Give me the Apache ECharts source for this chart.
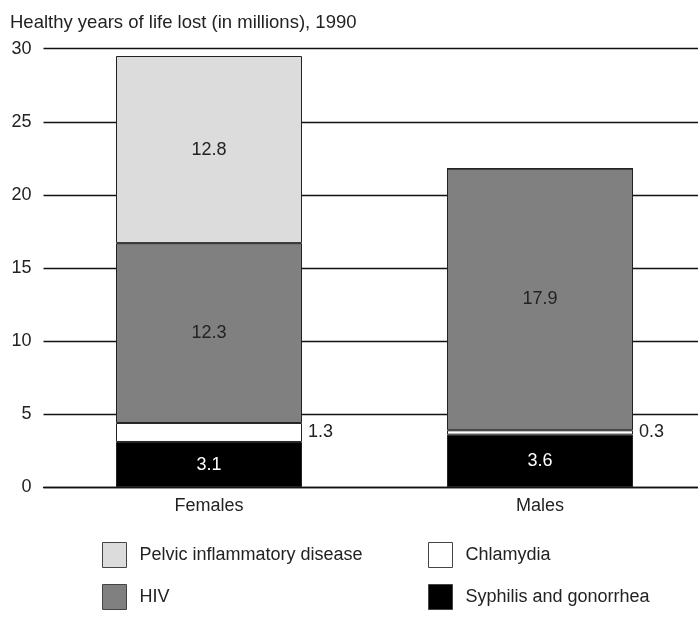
<!DOCTYPE html>
<html>
<head>
<meta charset="utf-8">
<script src="https://cdn.jsdelivr.net/npm/echarts@6/dist/echarts.min.js"></script>
<style>
html,body{margin:0;padding:0;background:#fff;}
#c{width:698px;height:621px;}
</style>
</head>
<body>
<div id="c"></div>
<script>
var categories = ['Females', 'Males'];
var syphilis = [3.1, 3.6];
var chlamydia = [1.3, 0.3];
var hiv = [12.3, 17.9];
var pid = [12.8, 0];
var yTicks = [0, 5, 10, 15, 20, 25, 30];
var titleText = 'Healthy years of life lost (in millions), 1990';

var FONT = 'Liberation Sans, Arial, sans-serif';
function fmt(p) { return p.value ? String(p.value) : ''; }
function bar(name, data, color, label) {
  return {
    name: name, type: 'bar', stack: 'a', data: data, barWidth: 186,
    itemStyle: { color: color, borderColor: '#222', borderWidth: 1 },
    label: Object.assign({ show: true, formatter: fmt, fontFamily: FONT, fontSize: 18, color: '#222' }, label)
  };
}
var legendCommon = {
  orient: 'vertical', top: 542, padding: 0, itemWidth: 24, itemHeight: 25, itemGap: 16, icon: 'rect',
  textStyle: { fontFamily: FONT, fontSize: 18, color: '#222', padding: [0, 0, 0, 8] },
  itemStyle: { borderColor: '#444', borderWidth: 1 }
};
var chart = echarts.init(document.getElementById('c'), null, { renderer: 'canvas' });
chart.setOption({
  animation: false,
  backgroundColor: '#fff',
  title: { text: titleText, left: 10, top: 13, padding: 0, textStyle: { fontFamily: FONT, fontSize: 18.5, fontWeight: 'normal', color: '#222' } },
  grid: { left: 43.5, width: 662, top: 48.7, height: 487.3 - 48.7, outerBoundsMode: 'none', containLabel: false },
  xAxis: {
    type: 'category', data: categories,
    axisLine: { lineStyle: { color: '#111', width: 1.3 } },
    axisTick: { show: false },
    axisLabel: { fontFamily: FONT, fontSize: 18, color: '#222', margin: 10 }
  },
  yAxis: {
    type: 'value', min: yTicks[0], max: yTicks[yTicks.length - 1], interval: 5,
    axisLine: { show: false }, axisTick: { show: false },
    axisLabel: { fontFamily: FONT, fontSize: 18, color: '#222', margin: 12 },
    splitLine: { lineStyle: { color: '#111', width: 1.3 } }
  },
  legend: [
    Object.assign({ data: ['Pelvic inflammatory disease', 'HIV'], left: 102 }, legendCommon),
    Object.assign({ data: ['Chlamydia', 'Syphilis and gonorrhea'], left: 428 }, legendCommon)
  ],
  series: [
    bar('Syphilis and gonorrhea', syphilis, '#000', { position: 'inside', color: '#fff' }),
    bar('Chlamydia', chlamydia, '#fff', { position: 'right', distance: 6 }),
    bar('HIV', hiv, '#808080', { position: 'inside' }),
    bar('Pelvic inflammatory disease', pid, '#dcdcdc', { position: 'inside' })
  ]
});
</script>
</body>
</html>
